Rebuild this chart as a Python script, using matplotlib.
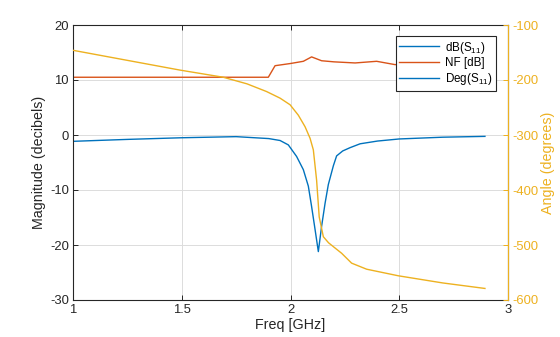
import matplotlib
matplotlib.use("Agg")
import matplotlib.pyplot as plt
from matplotlib.lines import Line2D

plt.rcParams['font.family'] = ['Liberation Sans', 'DejaVu Sans']
plt.rcParams['mathtext.fontset'] = 'custom'
plt.rcParams['mathtext.rm'] = 'Liberation Sans'
plt.rcParams['mathtext.it'] = 'Liberation Sans'
plt.rcParams['axes.unicode_minus'] = False

# Noise figure [dB]
freq_nf = [1.0, 1.5, 1.898, 1.929, 2.0, 2.059, 2.097, 2.143, 2.2, 2.297, 2.396, 2.48, 2.6, 2.75, 2.9]
nf_db = [10.5, 10.5, 10.5, 12.6, 13.0, 13.4, 14.2, 13.5, 13.3, 13.1, 13.4, 12.8, 12.7, 12.8, 12.8]

# Input reflection magnitude [dB]
freq_s11 = [1.0, 1.25, 1.5, 1.75, 1.9, 1.952, 1.99, 2.028, 2.059, 2.082, 2.097,
            2.113, 2.128, 2.143, 2.159, 2.174, 2.197, 2.212, 2.24, 2.274, 2.32, 2.4, 2.5, 2.7, 2.894]
s11_db = [-1.15, -0.8, -0.5, -0.3, -0.65, -1.0, -1.8, -3.9, -6.3, -9.3, -13.0,
          -17.2, -21.2, -16.6, -12.4, -9.0, -5.6, -3.8, -2.9, -2.3, -1.6, -1.1, -0.72, -0.4, -0.25]

# Input reflection phase [degrees]
freq_ang = [1.0, 1.492, 1.691, 1.8, 1.89, 1.952, 1.998, 2.036, 2.067, 2.09, 2.105, 2.12,
            2.132, 2.151, 2.175, 2.197, 2.235, 2.281, 2.35, 2.496, 2.7, 2.894]
s11_deg = [-146, -182, -195, -207, -221, -233, -245, -264, -285, -306, -327, -382,
           -449, -485, -496, -503, -515, -533, -544, -556, -569, -579]

blue = '#0072BD'
red = '#D95319'
yellow = '#EDB120'
dark = '#262626'

fig = plt.figure(figsize=(5.6, 3.37), dpi=100)
ax = fig.add_axes([73 / 560, 1 - 300 / 337, 435 / 560, 275 / 337])
ax2 = ax.twinx()

l1, = ax.plot(freq_s11, s11_db, color=blue, lw=1.0, label=r'dB(S$_{11}$)')
l2, = ax.plot(freq_nf, nf_db, color=red, lw=1.0, label='NF [dB]')
ax2.plot(freq_ang, s11_deg, color=yellow, lw=1.0)

ax.set_xlim(1, 3)
ax.set_ylim(-30, 20)
ax.set_xticks([1, 1.5, 2, 2.5, 3])
ax.set_xticklabels(['1', '1.5', '2', '2.5', '3'])
ax.set_yticks([-30, -20, -10, 0, 10, 20])
ax2.set_ylim(-600, -100)
ax2.set_yticks([-600, -500, -400, -300, -200, -100])

ax.grid(True, color='#dcdcdc', lw=0.7)
ax.set_axisbelow(True)

ax.tick_params(axis='both', direction='in', length=3.5, width=0.7, colors=dark,
               labelsize=9.4, top=True, pad=3)
ax2.tick_params(axis='y', direction='in', length=3.5, width=0.7, colors=yellow,
                labelsize=9.4, pad=3)

for s in ['left', 'bottom', 'top']:
    ax.spines[s].set_color(dark)
    ax.spines[s].set_linewidth(0.8)
ax2.spines['right'].set_color(yellow)
ax2.spines['right'].set_linewidth(0.8)
for s in ['left', 'bottom', 'top']:
    ax2.spines[s].set_visible(False)

ax.set_xlabel('Freq [GHz]', fontsize=10.3, color=dark, labelpad=1)
ax.set_ylabel('Magnitude (decibels)', fontsize=10.3, color=dark, labelpad=3)
ax2.set_ylabel('Angle (degrees)', fontsize=10.3, color=yellow, labelpad=2)

proxy = Line2D([], [], color=blue, lw=1.0)
leg = ax2.legend([l1, l2, proxy], [r'dB(S$_{11}$)', 'NF [dB]', r'Deg(S$_{11}$)'],
                 loc='upper right', bbox_to_anchor=(0.972, 0.96), borderaxespad=0,
                 fontsize=8.4, frameon=True, fancybox=False, framealpha=1,
                 edgecolor=dark, handlelength=3.4, handletextpad=0.5,
                 labelspacing=0.15, borderpad=0.3)
leg.get_frame().set_linewidth(0.8)

fig.savefig('out.png', dpi=100)
